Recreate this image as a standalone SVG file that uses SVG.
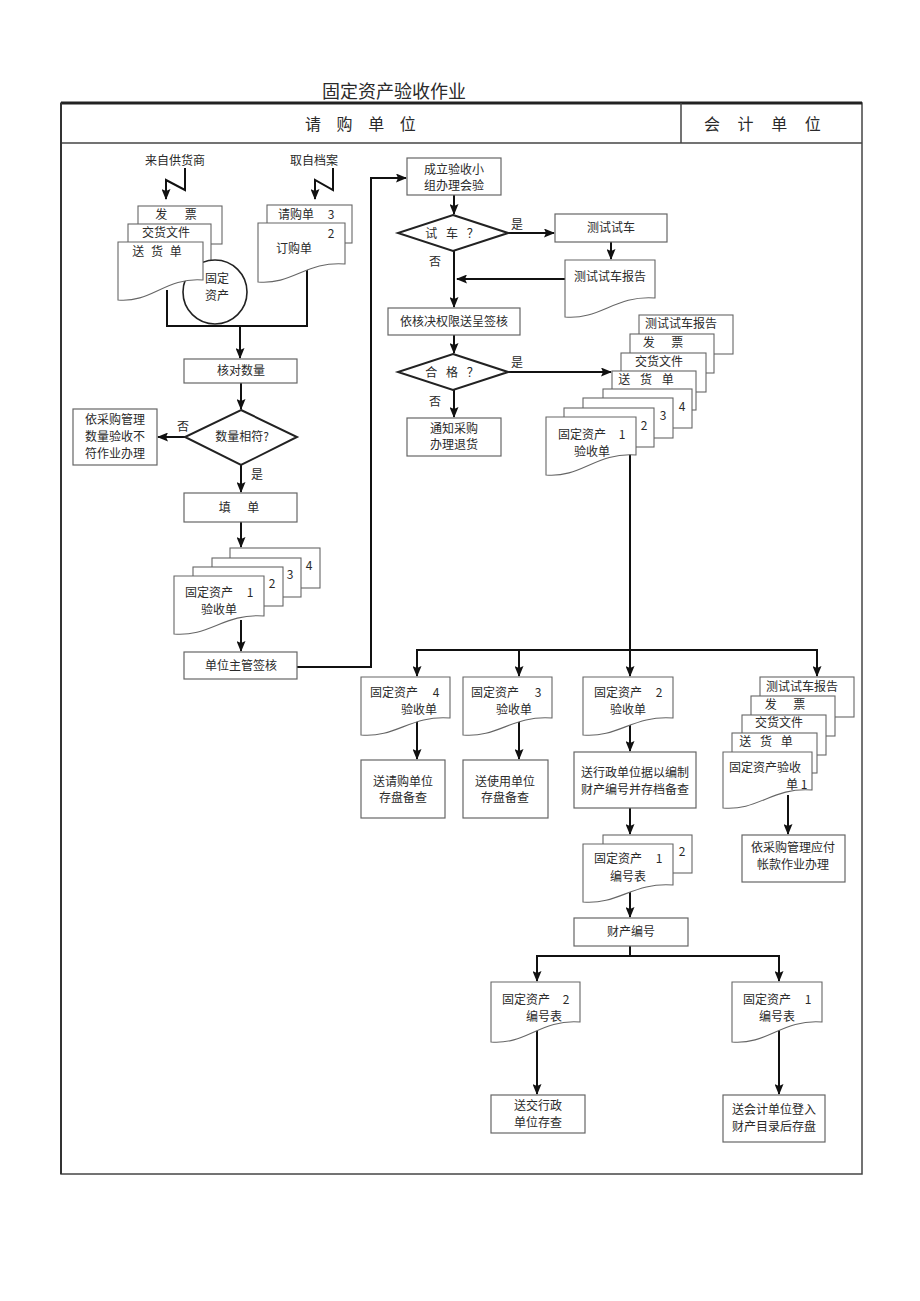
<svg xmlns="http://www.w3.org/2000/svg" width="920" height="1301" viewBox="0 0 920 1301">
<style>
text{font-family:"Noto Sans CJK SC","Noto Sans",sans-serif;fill:#2a2a2a;font-size:12px}
.m{text-anchor:middle}
.box{fill:#fff;stroke:#666;stroke-width:1.2}
.pg{fill:#fff;stroke:#666;stroke-width:1.1}
.dia{fill:#fff;stroke:#222;stroke-width:2}
.c{fill:none;stroke:#111;stroke-width:2}
.ca{fill:none;stroke:#111;stroke-width:2;marker-end:url(#a)}
.hd{font-size:16px;letter-spacing:6px}
</style>
<defs>
<marker id="a" markerWidth="11" markerHeight="9" refX="10" refY="4.5" orient="auto" markerUnits="userSpaceOnUse">
<path d="M0,0 L11,4.5 L0,9 L2,4.5 Z" fill="#111"/>
</marker>
</defs>
<rect width="920" height="1301" fill="#fff"/>
<text x="322" y="98" style="font-size:18px">固定资产验收作业</text>
<g id="frame">
<rect x="61" y="103" width="801" height="1071" fill="none" stroke="#444" stroke-width="1.5"/>
<line x1="61" y1="103" x2="862" y2="103" stroke="#222" stroke-width="3"/>
<line x1="61" y1="143" x2="862" y2="143" stroke="#444" stroke-width="1.5"/>
<line x1="681" y1="103" x2="681" y2="143" stroke="#444" stroke-width="1.5"/>
<line x1="61" y1="103" x2="61" y2="1174" stroke="#333" stroke-width="2"/>
<text class="hd" x="305" y="130">请 购 单 位</text>
<text class="hd" x="704" y="130" style="letter-spacing:7px">会 计 单 位</text>
</g>
<g id="connectors">
<polyline class="ca" points="185,168 185,190 166,180 166,199"/>
<polyline class="ca" points="333,168 333,190 315,180 315,199"/>
<polyline class="c" points="167,290 167,326 307,326 307,265"/>
<line class="ca" x1="240" y1="326" x2="240" y2="358"/>
<line class="ca" x1="241" y1="383" x2="241" y2="409"/>
<line class="ca" x1="185" y1="437" x2="158" y2="437"/>
<line class="ca" x1="241" y1="465" x2="241" y2="492"/>
<line class="ca" x1="241" y1="522" x2="241" y2="547"/>
<line class="ca" x1="241" y1="620" x2="241" y2="651"/>
<polyline class="ca" points="297,667 371,667 371,178 406,178"/>
<line class="ca" x1="454" y1="195" x2="454" y2="214"/>
<line class="ca" x1="508" y1="233" x2="554" y2="233"/>
<line class="ca" x1="611" y1="242" x2="611" y2="259"/>
<line class="ca" x1="565" y1="279" x2="457" y2="279"/>
<line class="ca" x1="454" y1="251" x2="454" y2="307"/>
<line class="ca" x1="454" y1="335" x2="454" y2="353"/>
<line class="ca" x1="508" y1="372" x2="611" y2="372"/>
<line class="ca" x1="454" y1="390" x2="454" y2="417"/>
<polyline class="c" points="630,450 630,650"/>
<line class="c" x1="416" y1="650" x2="818" y2="650"/>
<line class="ca" x1="417" y1="650" x2="417" y2="676"/>
<line class="ca" x1="519" y1="650" x2="519" y2="676"/>
<line class="ca" x1="630" y1="650" x2="630" y2="676"/>
<line class="ca" x1="817" y1="650" x2="817" y2="676"/>
<line class="ca" x1="417" y1="715" x2="417" y2="759"/>
<line class="ca" x1="519" y1="715" x2="519" y2="759"/>
<line class="ca" x1="630" y1="718" x2="630" y2="751"/>
<line class="ca" x1="630" y1="808" x2="630" y2="834"/>
<line class="ca" x1="630" y1="885" x2="630" y2="917"/>
<line class="c" x1="630" y1="946" x2="630" y2="956"/>
<line class="c" x1="536" y1="956" x2="780" y2="956"/>
<line class="ca" x1="537" y1="956" x2="537" y2="981"/>
<line class="ca" x1="779" y1="956" x2="779" y2="981"/>
<line class="ca" x1="537" y1="1025" x2="537" y2="1094"/>
<line class="ca" x1="779" y1="1025" x2="779" y2="1094"/>
<line class="ca" x1="788" y1="795" x2="788" y2="834"/>
</g>
<g id="n-src1"><text class="m" x="175" y="165">来自供货商</text></g>
<g id="n-src2"><text class="m" x="314" y="165">取自档案</text></g>
<g id="n-docs-left">
<rect class="pg" x="138" y="206" width="84" height="38"/>
<text class="m" x="176" y="219" word-spacing="15">发 票</text>
<rect class="pg" x="128" y="224" width="83" height="38"/>
<text class="m" x="166" y="237">交货文件</text>
<circle cx="215" cy="292" r="32" fill="#fff" stroke="#222" stroke-width="1.6"/>
<text class="m" x="217" y="283">固定</text>
<text class="m" x="217" y="300">资产</text>
<path class="pg" d="M118,242 H203 V280 C165,277 152,303 118,300 Z"/>
<text class="m" x="157" y="256" word-spacing="4">送 货 单</text>
</g>
<g id="n-docs-order">
<rect class="pg" x="267" y="205" width="85" height="38"/>
<text class="m" x="296" y="219">请购单</text>
<text class="m" x="331" y="219">3</text>
<path class="pg" d="M258,223 H345 V264 C306,261 293,285 258,282 Z"/>
<text class="m" x="331" y="238">2</text>
<text class="m" x="294" y="253">订购单</text>
</g>
<g id="n-check"><rect class="box" x="184" y="359" width="113" height="24"/><text class="m" x="241" y="375">核对数量</text></g>
<g id="n-qtydec"><polygon class="dia" points="241,410 297,437 241,465 185,437"/><text class="m" x="242" y="441">数量相符?</text>
<text class="m" x="183" y="431">否</text><text class="m" x="257" y="479">是</text></g>
<g id="n-mismatch"><rect class="box" x="73" y="409" width="84" height="56"/>
<text class="m" x="115" y="424">依采购管理</text><text class="m" x="115" y="441">数量验收不</text><text class="m" x="115" y="458">符作业办理</text></g>
<g id="n-fill"><rect class="box" x="184" y="493" width="113" height="29"/><text class="m" x="239" y="512" word-spacing="14">填 单</text></g>
<g id="n-form-left">
<rect class="pg" x="230" y="548" width="90" height="40"/><text class="m" x="309" y="570">4</text>
<rect class="pg" x="212" y="558" width="89" height="39"/><text class="m" x="290" y="579">3</text>
<rect class="pg" x="193" y="567" width="90" height="39"/><text class="m" x="272" y="588">2</text>
<path class="pg" d="M174,576 H264 V616 C223.5,613 210,637 174,634 Z"/>
<text class="m" x="209" y="597">固定资产</text><text class="m" x="250" y="597">1</text><text class="m" x="219" y="614">验收单</text>
</g>
<g id="n-mgr"><rect class="box" x="184" y="652" width="113" height="27"/><text class="m" x="241" y="670">单位主管签核</text></g>
<g id="n-team"><rect class="box" x="407" y="158" width="94" height="37"/><text class="m" x="454" y="174">成立验收小</text><text class="m" x="454" y="190">组办理会验</text></g>
<g id="n-testdec"><polygon class="dia" points="453,215 508,233 453,251 398,233"/><text class="m" x="452" y="238" word-spacing="6">试 车 ？</text>
<text class="m" x="517" y="229">是</text><text class="m" x="435" y="266">否</text></g>
<g id="n-test"><rect class="box" x="555" y="214" width="112" height="28"/><text class="m" x="611" y="232">测试试车</text></g>
<g id="n-report"><path class="pg" d="M565,260 H655 V298 C614.5,295 601,320 565,317 Z"/><text class="m" x="610" y="281">测试试车报告</text></g>
<g id="n-approve"><rect class="box" x="388" y="308" width="132" height="27"/><text class="m" x="454" y="326">依核决权限送呈签核</text></g>
<g id="n-passdec"><polygon class="dia" points="453,354 508,372 453,390 398,372"/><text class="m" x="452" y="377" word-spacing="6">合 格 ？</text>
<text class="m" x="517" y="367">是</text><text class="m" x="435" y="406">否</text></g>
<g id="n-return"><rect class="box" x="407" y="418" width="94" height="38"/><text class="m" x="454" y="433">通知采购</text><text class="m" x="454" y="449">办理退货</text></g>
<g id="n-form-right">
<rect class="pg" x="639" y="315" width="94" height="39"/><text class="m" x="681" y="328">测试试车报告</text>
<rect class="pg" x="630" y="334" width="84" height="39"/><text class="m" x="663" y="347" word-spacing="14">发 票</text>
<rect class="pg" x="621" y="353" width="85" height="39"/><text class="m" x="659" y="366">交货文件</text>
<rect class="pg" x="612" y="371" width="84" height="39"/><text class="m" x="646" y="384" word-spacing="7">送 货 单</text>
<rect class="pg" x="603" y="389" width="89" height="39"/><text class="m" x="682" y="411">4</text>
<rect class="pg" x="583" y="398" width="90" height="40"/><text class="m" x="663" y="420">3</text>
<rect class="pg" x="564" y="408" width="90" height="39"/><text class="m" x="644" y="430">2</text>
<path class="pg" d="M546,417 H636 V455 C595.5,452 582,478 546,475 Z"/>
<text class="m" x="582" y="439">固定资产</text><text class="m" x="622" y="439">1</text><text class="m" x="592" y="456">验收单</text>
</g>
<g id="n-f4"><path class="pg" d="M361,677 H450 V718 C410,715 396.6,738 361,735 Z"/>
<text class="m" x="394" y="697">固定资产</text><text class="m" x="436" y="697">4</text><text class="m" x="419" y="714">验收单</text></g>
<g id="n-f3"><path class="pg" d="M463,677 H552 V718 C512,715 498.6,738 463,735 Z"/>
<text class="m" x="495" y="697">固定资产</text><text class="m" x="538" y="697">3</text><text class="m" x="514" y="714">验收单</text></g>
<g id="n-f2"><path class="pg" d="M583,677 H673 V718 C632.5,715 619,738 583,735 Z"/>
<text class="m" x="618" y="697">固定资产</text><text class="m" x="659" y="697">2</text><text class="m" x="628" y="714">验收单</text></g>
<g id="n-s4"><rect class="box" x="361" y="760" width="84" height="58"/><text class="m" x="403" y="786">送请购单位</text><text class="m" x="403" y="802">存盘备查</text></g>
<g id="n-s3"><rect class="box" x="463" y="760" width="85" height="58"/><text class="m" x="505" y="786">送使用单位</text><text class="m" x="505" y="802">存盘备查</text></g>
<g id="n-s2"><rect class="box" x="574" y="752" width="122" height="56"/><text class="m" x="635" y="777">送行政单位据以编制</text><text class="m" x="635" y="794">财产编号并存档备查</text></g>
<g id="n-codes">
<rect class="pg" x="603" y="835" width="89" height="38"/><text class="m" x="682" y="856">2</text>
<path class="pg" d="M583,844 H673 V885 C632.5,882 619,905 583,902 Z"/>
<text class="m" x="618" y="863">固定资产</text><text class="m" x="659" y="863">1</text><text class="m" x="628" y="881">编号表</text>
</g>
<g id="n-assetno"><rect class="box" x="574" y="918" width="114" height="28"/><text class="m" x="631" y="936">财产编号</text></g>
<g id="n-c2"><path class="pg" d="M491,982 H580 V1022 C540,1019 526.6,1045 491,1042 Z"/>
<text class="m" x="526" y="1004">固定资产</text><text class="m" x="566" y="1004">2</text><text class="m" x="544" y="1021">编号表</text></g>
<g id="n-c1"><path class="pg" d="M732,982 H822 V1022 C781.5,1019 768,1045 732,1042 Z"/>
<text class="m" x="767" y="1004">固定资产</text><text class="m" x="808" y="1004">1</text><text class="m" x="777" y="1021">编号表</text></g>
<g id="n-admin"><rect class="box" x="491" y="1095" width="94" height="38"/><text class="m" x="538" y="1110">送交行政</text><text class="m" x="538" y="1127">单位存查</text></g>
<g id="n-acct"><rect class="box" x="723" y="1095" width="102" height="47"/><text class="m" x="774" y="1114">送会计单位登入</text><text class="m" x="774" y="1131">财产目录后存盘</text></g>
<g id="n-form-acct">
<rect class="pg" x="760" y="677" width="94" height="40"/><text class="m" x="802" y="691">测试试车报告</text>
<rect class="pg" x="751" y="696" width="84" height="40"/><text class="m" x="785" y="709" word-spacing="14">发 票</text>
<rect class="pg" x="742" y="715" width="84" height="40"/><text class="m" x="779" y="727">交货文件</text>
<rect class="pg" x="732" y="733" width="85" height="40"/><text class="m" x="766" y="746" word-spacing="6">送 货 单</text>
<path class="pg" d="M723,752 H812 V790 C772,787 758.6,811 723,808 Z"/>
<text class="m" x="765" y="772">固定资产验收</text><text x="786" y="789">单 1</text>
</g>
<g id="n-pay"><rect class="box" x="742" y="835" width="103" height="47"/><text class="m" x="793" y="852">依采购管理应付</text><text class="m" x="793" y="869">帐款作业办理</text></g>
</svg>
